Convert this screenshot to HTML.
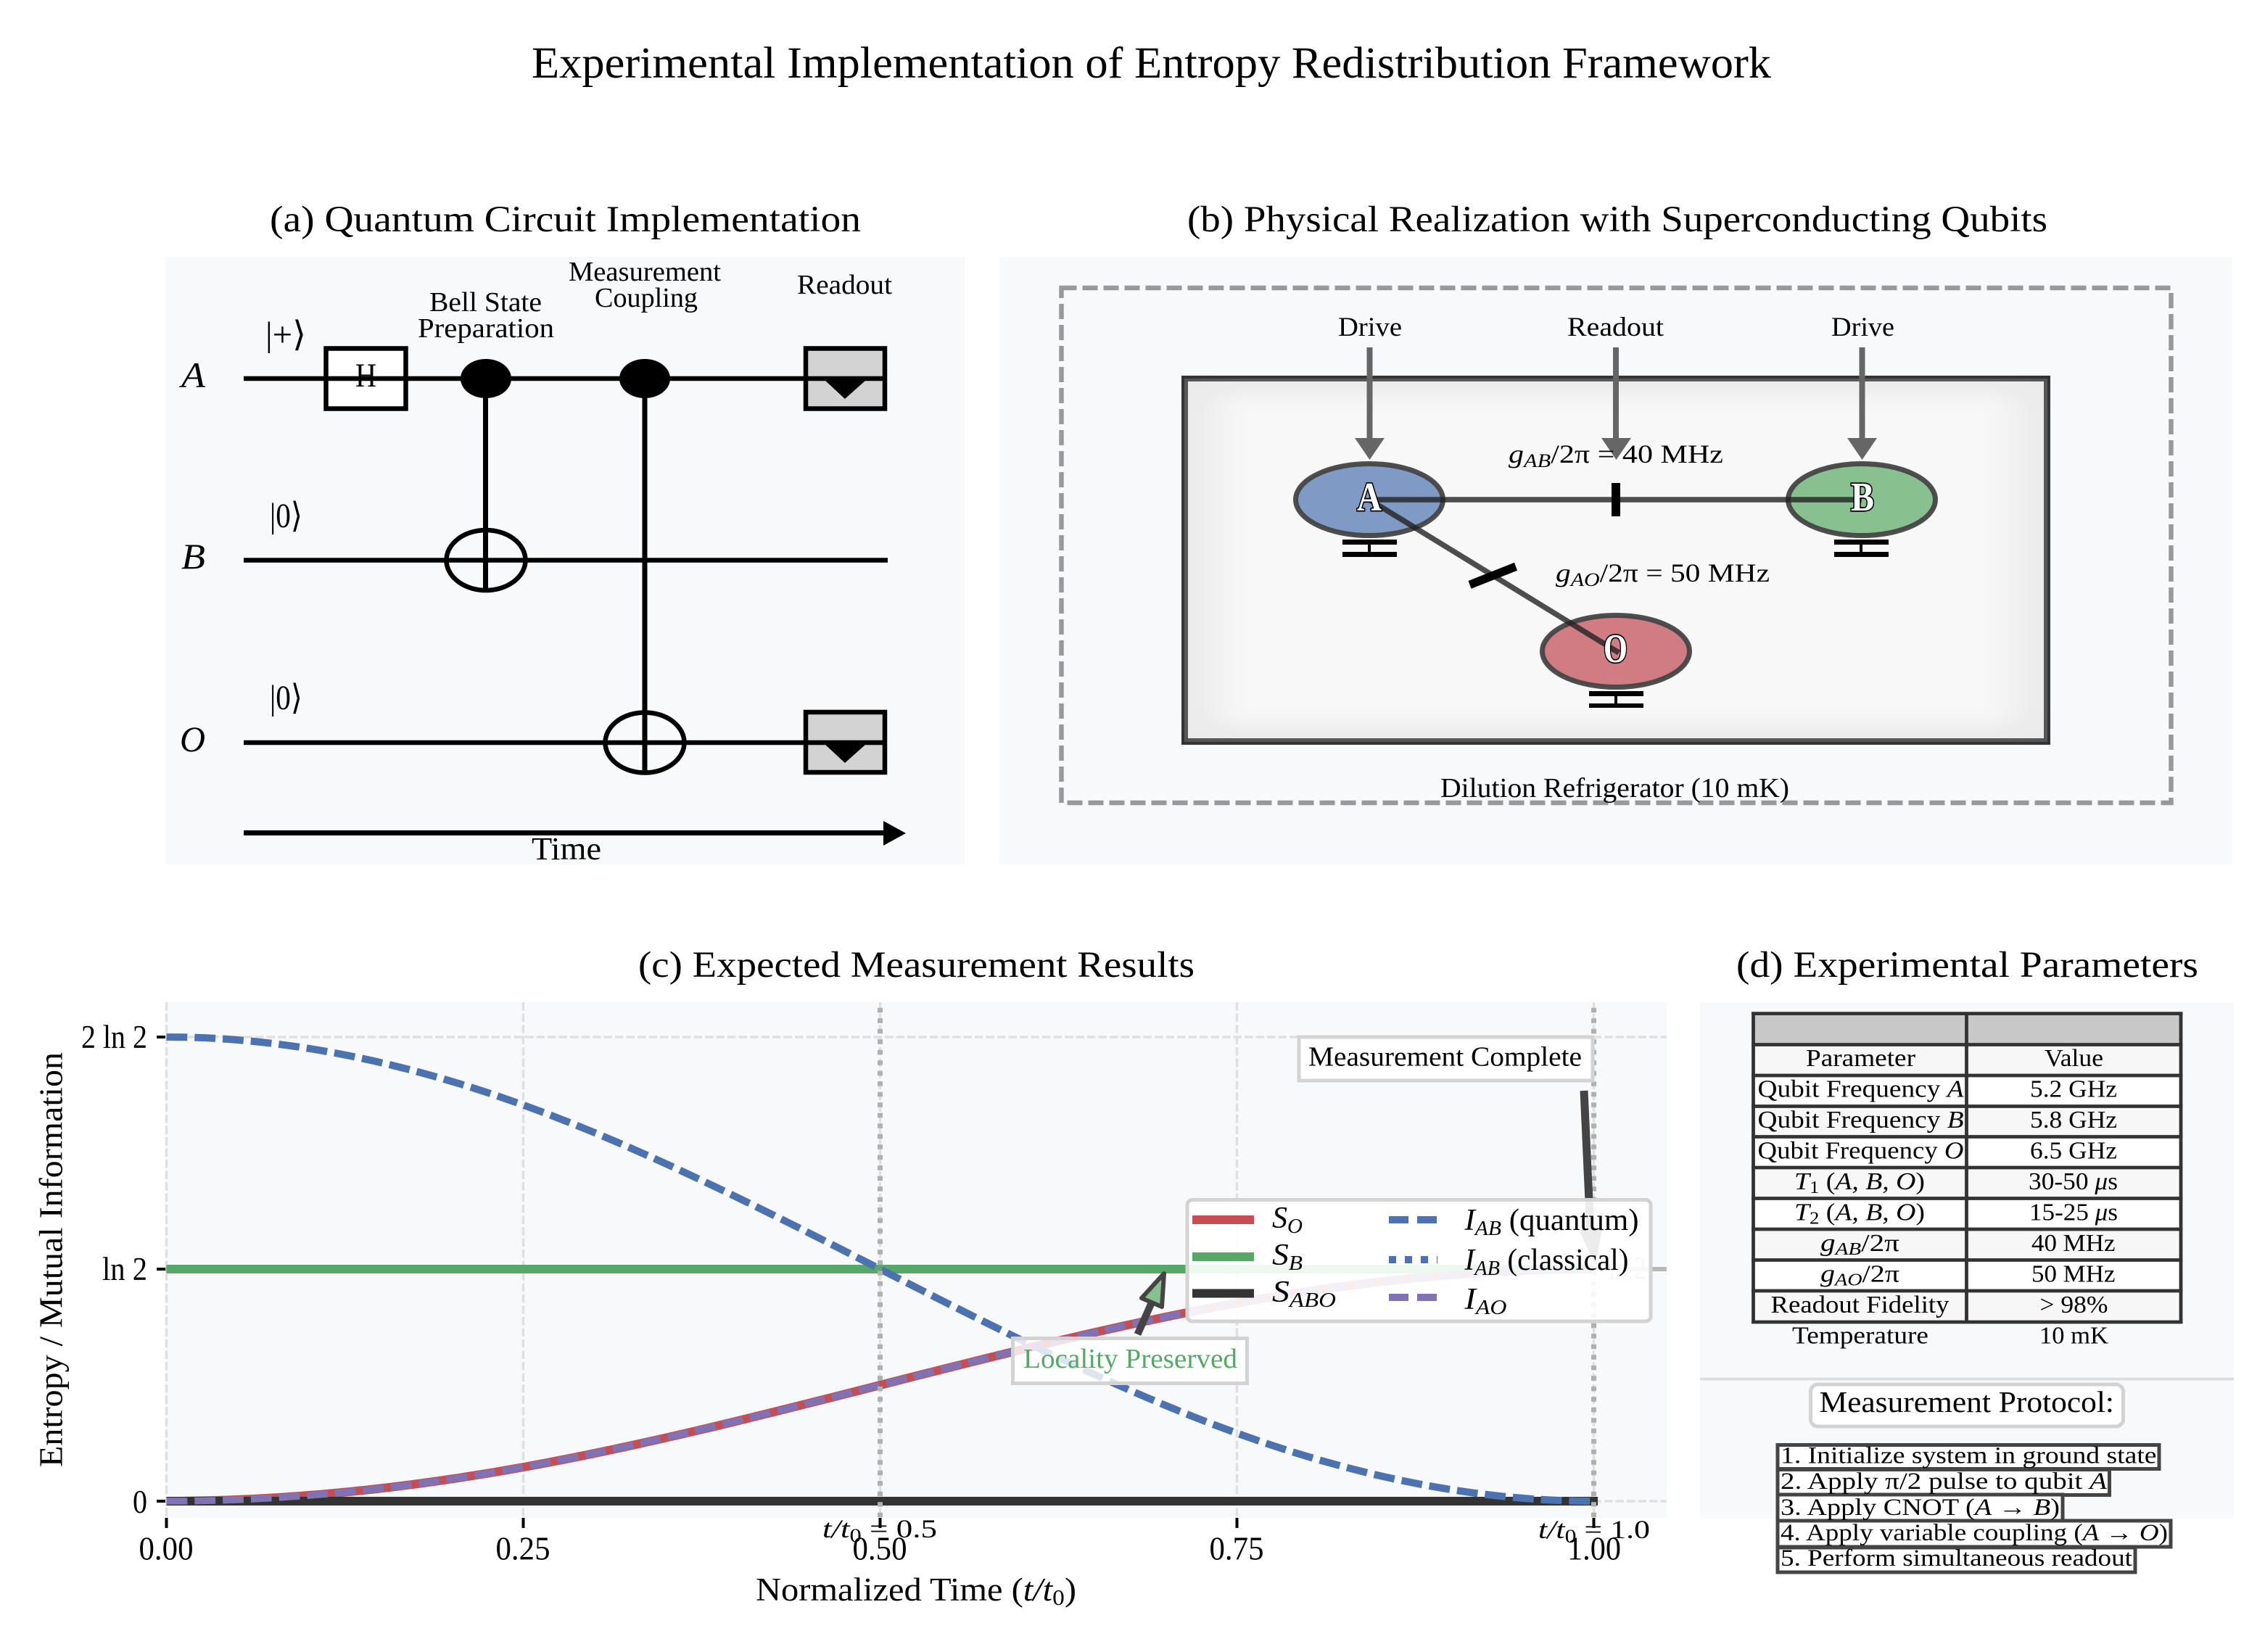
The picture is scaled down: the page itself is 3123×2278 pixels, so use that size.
<!DOCTYPE html>
<html><head><meta charset="utf-8"><style>
html,body{margin:0;padding:0;background:#fff;width:3123px;height:2278px;overflow:hidden}
svg{display:block}
text{font-family:"Liberation Serif","DejaVu Serif",serif;fill:#000;white-space:pre}
.i{font-style:italic}
.q{fill:#fff;stroke:#000;stroke-width:3.5px;paint-order:stroke;font-weight:bold}
</style></head><body>
<svg xmlns="http://www.w3.org/2000/svg" width="3123" height="2278" viewBox="0 0 3123 2278">
<defs>
<filter id="soft" x="-10%" y="-10%" width="120%" height="120%"><feGaussianBlur stdDeviation="24 12"/></filter>
</defs>
<rect width="3123" height="2278" fill="#fff"/>
<text x="733" y="107" font-size="61" textLength="1709" lengthAdjust="spacingAndGlyphs">Experimental Implementation of Entropy Redistribution Framework</text>
<text x="372" y="319" font-size="51" textLength="815" lengthAdjust="spacingAndGlyphs">(a) Quantum Circuit Implementation</text>
<text x="1637" y="319" font-size="51" textLength="1186" lengthAdjust="spacingAndGlyphs">(b) Physical Realization with Superconducting Qubits</text>
<text x="880" y="1347" font-size="51" textLength="767" lengthAdjust="spacingAndGlyphs">(c) Expected Measurement Results</text>
<text x="2394" y="1347" font-size="51" textLength="637" lengthAdjust="spacingAndGlyphs">(d) Experimental Parameters</text>

<!-- Panel a -->
<rect x="228" y="354" width="1102" height="838" fill="#f8f9fa"/>
<g stroke="#000" stroke-width="6.500" fill="none">
<rect x="449.500" y="480.500" width="110" height="83" fill="#fff"/>
<rect x="1111" y="480.500" width="109" height="83" fill="#d3d3d3"/>
<rect x="1111" y="982" width="109" height="83" fill="#d3d3d3"/>
<path d="M336 522H1223M336 772.500H1224M336 1024H1223"/>
<path d="M669.500 522V816M889 522V1068" stroke-width="7"/>
<ellipse cx="670" cy="772.500" rx="54.500" ry="41.500"/>
<ellipse cx="889" cy="1024" rx="54.500" ry="41.500"/>
<path d="M336 1148.500H1222" stroke-width="7"/>
</g>
<ellipse cx="670" cy="522" rx="35" ry="27" fill="#000"/>
<ellipse cx="889" cy="522" rx="35" ry="27" fill="#000"/>
<path d="M1138 525H1193L1165 550Z M1138 1027H1193L1165 1052Z M1218 1132L1249 1149L1218 1166Z" fill="#000"/>
<text x="490" y="533" font-size="47" textLength="29" lengthAdjust="spacingAndGlyphs">H</text>
<text x="250" y="534" font-size="50" class="i" textLength="33" lengthAdjust="spacingAndGlyphs">A</text>
<text x="250" y="784" font-size="50" class="i" textLength="33" lengthAdjust="spacingAndGlyphs">B</text>
<text x="248" y="1036" font-size="50" class="i" textLength="35" lengthAdjust="spacingAndGlyphs">O</text>
<text x="366" y="477" font-size="48" textLength="56" lengthAdjust="spacingAndGlyphs">|+⟩</text>
<text x="372" y="727" font-size="48" textLength="45" lengthAdjust="spacingAndGlyphs">|0⟩</text>
<text x="372" y="978" font-size="48" textLength="45" lengthAdjust="spacingAndGlyphs">|0⟩</text>
<text x="592" y="429" font-size="38" textLength="155" lengthAdjust="spacingAndGlyphs">Bell State</text>
<text x="576" y="465" font-size="38" textLength="188" lengthAdjust="spacingAndGlyphs">Preparation</text>
<text x="784" y="387" font-size="38" textLength="210" lengthAdjust="spacingAndGlyphs">Measurement</text>
<text x="820" y="423" font-size="38" textLength="142" lengthAdjust="spacingAndGlyphs">Coupling</text>
<text x="1099" y="405" font-size="38" textLength="131" lengthAdjust="spacingAndGlyphs">Readout</text>
<text x="733" y="1185" font-size="44" textLength="96" lengthAdjust="spacingAndGlyphs">Time</text>

<!-- Panel b -->
<rect x="1378" y="354" width="1700" height="838" fill="#f8f9fa"/>
<rect x="1463.500" y="397" width="1530" height="710" fill="none" stroke="#999" stroke-width="6.500" stroke-dasharray="21 8"/>
<rect x="1629" y="518" width="1198" height="509" fill="#333"/>
<rect x="1633" y="522" width="1190" height="501" fill="#555"/>
<rect x="1638" y="526" width="1180" height="492" fill="#ebebeb"/>
<rect x="1680" y="546" width="1096" height="452" fill="#f8f8f8" filter="url(#soft)"/>
<g fill="#666" stroke="none">
<rect x="1884.500" y="479" width="8" height="128"/><path d="M1868 604H1909L1888.500 634Z"/>
<rect x="2224" y="479" width="8" height="128"/><path d="M2208 604H2249L2228.500 634Z"/>
<rect x="2563.500" y="479" width="8" height="128"/><path d="M2547 604H2588L2567.500 634Z"/>
</g>
<g stroke="#444" stroke-width="7" stroke-opacity=".95">
<ellipse cx="1888" cy="689" rx="101.500" ry="49.500" fill="#7f9ac4"/>
<ellipse cx="2567" cy="689" rx="101.500" ry="49.500" fill="#88c090"/>
<ellipse cx="2228" cy="898" rx="101.500" ry="49.500" fill="#d07c82"/>
</g>
<g stroke="#222" stroke-opacity=".8" stroke-width="7.500" fill="none">
<path d="M1888 689H2567"/>
<path d="M1888 689L2232 900"/>
</g>
<path d="M2222 666H2234V712H2222Z M2024.500 801L2088 775.700L2092 786.700L2028.600 811.700Z" fill="#000"/>
<path d="M1851 744H1926V751H1890V761H1926V768H1851V761H1886V751H1851Z" fill="#000"/>
<path d="M2529 744H2604V751H2568V761H2604V768H2529V761H2564V751H2529Z" fill="#000"/>
<path d="M2191 953H2266V960H2230V970H2266V976H2191V970H2226V960H2191Z" fill="#000"/>
<text x="1871" y="704" font-size="56" class="q" textLength="34" lengthAdjust="spacingAndGlyphs">A</text>
<text x="2552" y="704" font-size="56" class="q" textLength="32" lengthAdjust="spacingAndGlyphs">B</text>
<text x="2211" y="913" font-size="56" class="q" textLength="33" lengthAdjust="spacingAndGlyphs">O</text>
<text x="1845" y="463" font-size="37" textLength="88" lengthAdjust="spacingAndGlyphs">Drive</text>
<text x="2161" y="463" font-size="37" textLength="133" lengthAdjust="spacingAndGlyphs">Readout</text>
<text x="2525" y="463" font-size="37" textLength="87" lengthAdjust="spacingAndGlyphs">Drive</text>
<text x="2080" y="638" font-size="36" textLength="296" lengthAdjust="spacingAndGlyphs"><tspan class="i">g</tspan><tspan class="i" font-size="26" dy="6">AB</tspan><tspan dy="-6">/2π = 40 MHz</tspan></text>
<text x="2145" y="802" font-size="36" textLength="295" lengthAdjust="spacingAndGlyphs"><tspan class="i">g</tspan><tspan class="i" font-size="26" dy="6">AO</tspan><tspan dy="-6">/2π = 50 MHz</tspan></text>
<text x="1986" y="1099" font-size="38" textLength="481" lengthAdjust="spacingAndGlyphs">Dilution Refrigerator (10 mK)</text>

<!-- Panel c -->
<rect x="228" y="1382" width="2070" height="711" fill="#f8f9fa"/>
<g stroke="#e0e0e0" stroke-width="3.500" stroke-dasharray="11.500 4" fill="none">
<path d="M229.500 1382V2093M721.500 1382V2093M1213.500 1382V2093M1705.500 1382V2093M2197.500 1382V2093"/>
<path d="M228 1430H2298M228 1750H2298M228 2070H2298"/>
</g>
<path d="M228 1750H2298" stroke="#b8b8b8" stroke-width="6"/>
<text x="2218" y="1764" font-size="45" style="fill:#aaa" textLength="52" lengthAdjust="spacingAndGlyphs">ln 2</text>
<path d="M229.500 2070C393.500 2070 557.500 2052.800 721.500 2023.100C885.500 1993.500 1049.500 1951.900 1213.500 1910C1377.500 1868.100 1541.500 1826.500 1705.500 1796.900C1869.500 1767.200 2033.500 1750 2197.500 1750" fill="none" stroke="#c44e52" stroke-width="12"/>
<path d="M229.500 1750H2197.500" stroke="#55a868" stroke-width="12"/>
<path d="M229.500 2070H2203" stroke="#333" stroke-width="12"/>
<path d="M229.500 1430C393.500 1430 557.500 1464.500 721.500 1523.700C885.500 1583 1049.500 1666.200 1213.500 1750C1377.500 1833.800 1541.500 1917 1705.500 1976.300C1869.500 2035.500 2033.500 2070 2197.500 2070" fill="none" stroke="#4c72b0" stroke-width="10" stroke-dasharray="28.800 10"/>
<path d="M229.500 2070C393.500 2070 557.500 2052.800 721.500 2023.100C885.500 1993.500 1049.500 1951.900 1213.500 1910C1377.500 1868.100 1541.500 1826.500 1705.500 1796.900C1869.500 1767.200 2033.500 1750 2197.500 1750" fill="none" stroke="#8172b3" stroke-width="9.500" stroke-dasharray="28.800 10"/>
<g stroke="#b0b0b0" stroke-width="7" stroke-dasharray="6.500 8" stroke-dashoffset="6.750">
<path d="M1213.500 1382V2093M2197.500 1382V2093"/>
</g>
<!-- measurement annotation -->
<path d="M2184 1504L2193 1700" stroke="#444" stroke-width="11"/>
<path d="M2177 1696L2209 1694L2200 1745Z" fill="#444"/>
<rect x="1791" y="1430" width="405" height="60" fill="#fff" stroke="#d3d3d3" stroke-width="5"/>
<text x="1804" y="1469.500" font-size="38" textLength="377" lengthAdjust="spacingAndGlyphs">Measurement Complete</text>
<!-- locality annotation -->
<rect x="1396.500" y="1845.500" width="323" height="62" fill="#fff" fill-opacity=".82" stroke="#d3d3d3" stroke-width="5"/>
<text x="1411" y="1886" font-size="38" style="fill:#55a868" textLength="295" lengthAdjust="spacingAndGlyphs">Locality Preserved</text>
<path d="M1568.500 1840L1588 1796" stroke="#444" stroke-width="10"/>
<path d="M1605 1756L1574 1790L1602 1802Z" fill="#88c090" stroke="#444" stroke-width="6" stroke-linejoin="round"/>
<!-- legend -->
<rect x="1637" y="1654.500" width="639" height="167.500" rx="7" fill="#fff" fill-opacity=".9" stroke="#d3d3d3" stroke-width="5"/>
<path d="M1644 1682H1729" stroke="#c44e52" stroke-width="12"/>
<path d="M1644 1733H1729" stroke="#55a868" stroke-width="12"/>
<path d="M1644 1783.500H1729" stroke="#333" stroke-width="12"/>
<path d="M1915 1682H1982" stroke="#4c72b0" stroke-width="10" stroke-dasharray="27 12"/>
<path d="M1915 1737H1982" stroke="#4c72b0" stroke-width="10" stroke-dasharray="10 12"/>
<path d="M1915 1789H1982" stroke="#8172b3" stroke-width="10" stroke-dasharray="27 12"/>
<text x="1754" y="1693" font-size="42" class="i" textLength="42" lengthAdjust="spacingAndGlyphs">S<tspan font-size="29" dy="7">O</tspan></text>
<text x="1754" y="1744" font-size="42" class="i" textLength="42" lengthAdjust="spacingAndGlyphs">S<tspan font-size="29" dy="7">B</tspan></text>
<text x="1754" y="1795" font-size="42" class="i" textLength="88" lengthAdjust="spacingAndGlyphs">S<tspan font-size="29" dy="7">ABO</tspan></text>
<text x="2019.500" y="1696" font-size="42" textLength="240" lengthAdjust="spacingAndGlyphs"><tspan class="i">I</tspan><tspan class="i" font-size="29" dy="7">AB</tspan><tspan dy="-7"> (quantum)</tspan></text>
<text x="2019.500" y="1751" font-size="42" textLength="226" lengthAdjust="spacingAndGlyphs"><tspan class="i">I</tspan><tspan class="i" font-size="29" dy="7">AB</tspan><tspan dy="-7"> (classical)</tspan></text>
<text x="2019.500" y="1805" font-size="42" textLength="58" lengthAdjust="spacingAndGlyphs"><tspan class="i">I</tspan><tspan class="i" font-size="29" dy="7">AO</tspan></text>
<!-- ticks -->
<g stroke="#000" stroke-width="4">
<path d="M229.500 2093V2107M721.500 2093V2107M1213.500 2093V2107M1705.500 2093V2107M2197.500 2093V2107"/>
<path d="M216 1430H228M216 1750H228M216 2070H228"/>
</g>
<text x="1134" y="2120" font-size="36" textLength="158" lengthAdjust="spacingAndGlyphs"><tspan class="i">t/t</tspan><tspan font-size="26" dy="6">0</tspan><tspan dy="-6"> = 0.5</tspan></text>
<text x="2121" y="2121" font-size="36" textLength="154" lengthAdjust="spacingAndGlyphs"><tspan class="i">t/t</tspan><tspan font-size="26" dy="6">0</tspan><tspan dy="-6"> = 1.0</tspan></text>
<text x="191.500" y="2150.500" font-size="45" textLength="75" lengthAdjust="spacingAndGlyphs">0.00</text>
<text x="683.500" y="2150.500" font-size="45" textLength="75" lengthAdjust="spacingAndGlyphs">0.25</text>
<text x="1175.500" y="2150.500" font-size="45" textLength="75" lengthAdjust="spacingAndGlyphs">0.50</text>
<text x="1667.500" y="2150.500" font-size="45" textLength="75" lengthAdjust="spacingAndGlyphs">0.75</text>
<text x="2161" y="2150.500" font-size="45" textLength="74" lengthAdjust="spacingAndGlyphs">1.00</text>
<text x="112" y="1445" font-size="45" textLength="91" lengthAdjust="spacingAndGlyphs">2 ln 2</text>
<text x="141" y="1765" font-size="45" textLength="62" lengthAdjust="spacingAndGlyphs">ln 2</text>
<text x="183" y="2086" font-size="45" textLength="20" lengthAdjust="spacingAndGlyphs">0</text>
<text x="1042" y="2207" font-size="45" textLength="442" lengthAdjust="spacingAndGlyphs">Normalized Time (<tspan class="i">t/t</tspan><tspan font-size="31" dy="6">0</tspan><tspan dy="-6">)</tspan></text>
<text transform="translate(85.500 2023) rotate(-90)" font-size="45" textLength="572" lengthAdjust="spacingAndGlyphs">Entropy / Mutual Information</text>

<!-- Panel d -->
<rect x="2344" y="1383" width="736" height="711" fill="#f8f9fa"/>
<rect x="2417.500" y="1397.600" width="589.500" height="42.500" fill="#c8c8c8"/>
<rect x="2417.500" y="1440" width="589.500" height="42.500" fill="#f7f7f7"/>
<rect x="2417.500" y="1482.500" width="589.500" height="42.500" fill="#fff"/>
<rect x="2417.500" y="1525" width="589.500" height="42.500" fill="#f7f7f7"/>
<rect x="2417.500" y="1567.500" width="589.500" height="42.500" fill="#fff"/>
<rect x="2417.500" y="1610" width="589.500" height="42.500" fill="#f7f7f7"/>
<rect x="2417.500" y="1652.500" width="589.500" height="42.500" fill="#fff"/>
<rect x="2417.500" y="1695" width="589.500" height="42.500" fill="#f7f7f7"/>
<rect x="2417.500" y="1737.500" width="589.500" height="42.500" fill="#fff"/>
<rect x="2417.500" y="1780" width="589.500" height="43" fill="#f7f7f7"/>
<path d="M2415 1397.600H3009.500M2415 1440.500H3009.500M2415 1483H3009.500M2415 1525.500H3009.500M2415 1567.500H3009.500M2415 1610H3009.500M2415 1652.500H3009.500M2415 1695H3009.500M2415 1737.500H3009.500M2415 1780H3009.500M2415 1823H3009.500M2417.500 1395.600V1825M2711.500 1395.600V1825M3007 1395.600V1825" stroke="#333" stroke-width="4.800" fill="none"/>
<text x="2490" y="1470" font-size="34" textLength="151" lengthAdjust="spacingAndGlyphs">Parameter</text>
<text x="2819" y="1470" font-size="34" textLength="81" lengthAdjust="spacingAndGlyphs">Value</text>
<text x="2423.500" y="1512.500" font-size="34" textLength="284" lengthAdjust="spacingAndGlyphs">Qubit Frequency <tspan class="i">A</tspan></text>
<text x="2423.500" y="1555" font-size="34" textLength="284" lengthAdjust="spacingAndGlyphs">Qubit Frequency <tspan class="i">B</tspan></text>
<text x="2423.500" y="1597.500" font-size="34" textLength="284" lengthAdjust="spacingAndGlyphs">Qubit Frequency <tspan class="i">O</tspan></text>
<text x="2474" y="1640" font-size="34" textLength="180" lengthAdjust="spacingAndGlyphs"><tspan class="i">T</tspan><tspan font-size="24" dy="5">1</tspan><tspan dy="-5"> (</tspan><tspan class="i">A, B, O</tspan>)</text>
<text x="2474" y="1682.500" font-size="34" textLength="180" lengthAdjust="spacingAndGlyphs"><tspan class="i">T</tspan><tspan font-size="24" dy="5">2</tspan><tspan dy="-5"> (</tspan><tspan class="i">A, B, O</tspan>)</text>
<text x="2510" y="1725" font-size="34" textLength="109" lengthAdjust="spacingAndGlyphs"><tspan class="i">g</tspan><tspan class="i" font-size="24" dy="5">AB</tspan><tspan dy="-5">/2π</tspan></text>
<text x="2510" y="1767.500" font-size="34" textLength="109" lengthAdjust="spacingAndGlyphs"><tspan class="i">g</tspan><tspan class="i" font-size="24" dy="5">AO</tspan><tspan dy="-5">/2π</tspan></text>
<text x="2441.500" y="1810" font-size="34" textLength="246" lengthAdjust="spacingAndGlyphs">Readout Fidelity</text>
<text x="2471" y="1852.500" font-size="34" textLength="188" lengthAdjust="spacingAndGlyphs">Temperature</text>
<text x="2799" y="1512.500" font-size="34" textLength="120" lengthAdjust="spacingAndGlyphs">5.2 GHz</text>
<text x="2799" y="1555" font-size="34" textLength="120" lengthAdjust="spacingAndGlyphs">5.8 GHz</text>
<text x="2799" y="1597.500" font-size="34" textLength="120" lengthAdjust="spacingAndGlyphs">6.5 GHz</text>
<text x="2797" y="1640" font-size="34" textLength="123" lengthAdjust="spacingAndGlyphs">30-50 <tspan class="i">μ</tspan>s</text>
<text x="2798" y="1682.500" font-size="34" textLength="122" lengthAdjust="spacingAndGlyphs">15-25 <tspan class="i">μ</tspan>s</text>
<text x="2801" y="1725" font-size="34" textLength="115.500" lengthAdjust="spacingAndGlyphs">40 MHz</text>
<text x="2801" y="1767.500" font-size="34" textLength="115.500" lengthAdjust="spacingAndGlyphs">50 MHz</text>
<text x="2812.500" y="1810" font-size="34" textLength="94" lengthAdjust="spacingAndGlyphs">&gt; 98%</text>
<text x="2812" y="1852.500" font-size="34" textLength="95" lengthAdjust="spacingAndGlyphs">10 mK</text>
<path d="M2344 1901.500H3080" stroke="#ddd" stroke-width="4"/>
<rect x="2496.500" y="1909" width="431" height="58" rx="10" fill="#fff" stroke="#d3d3d3" stroke-width="5"/>
<text x="2508.500" y="1947" font-size="41" textLength="406.500" lengthAdjust="spacingAndGlyphs">Measurement Protocol:</text>
<g fill="#fff" stroke="#444" stroke-width="5">
<rect x="2451" y="1992.500" width="526" height="33"/>
<rect x="2451" y="2026.500" width="457.500" height="35"/>
<rect x="2451" y="2061" width="393" height="36"/>
<rect x="2451" y="2097" width="542" height="36"/>
<rect x="2451" y="2134" width="493" height="34"/>
</g>
<text x="2455" y="2017.500" font-size="33" textLength="518.500" lengthAdjust="spacingAndGlyphs">1. Initialize system in ground state</text>
<text x="2455" y="2053" font-size="33" textLength="450" lengthAdjust="spacingAndGlyphs">2. Apply π/2 pulse to qubit <tspan class="i">A</tspan></text>
<text x="2455" y="2089" font-size="33" textLength="385" lengthAdjust="spacingAndGlyphs">3. Apply CNOT (<tspan class="i">A</tspan> → <tspan class="i">B</tspan>)</text>
<text x="2455" y="2124" font-size="33" textLength="534" lengthAdjust="spacingAndGlyphs">4. Apply variable coupling (<tspan class="i">A</tspan> → <tspan class="i">O</tspan>)</text>
<text x="2455" y="2159" font-size="33" textLength="485" lengthAdjust="spacingAndGlyphs">5. Perform simultaneous readout</text>
</svg>
</body></html>
